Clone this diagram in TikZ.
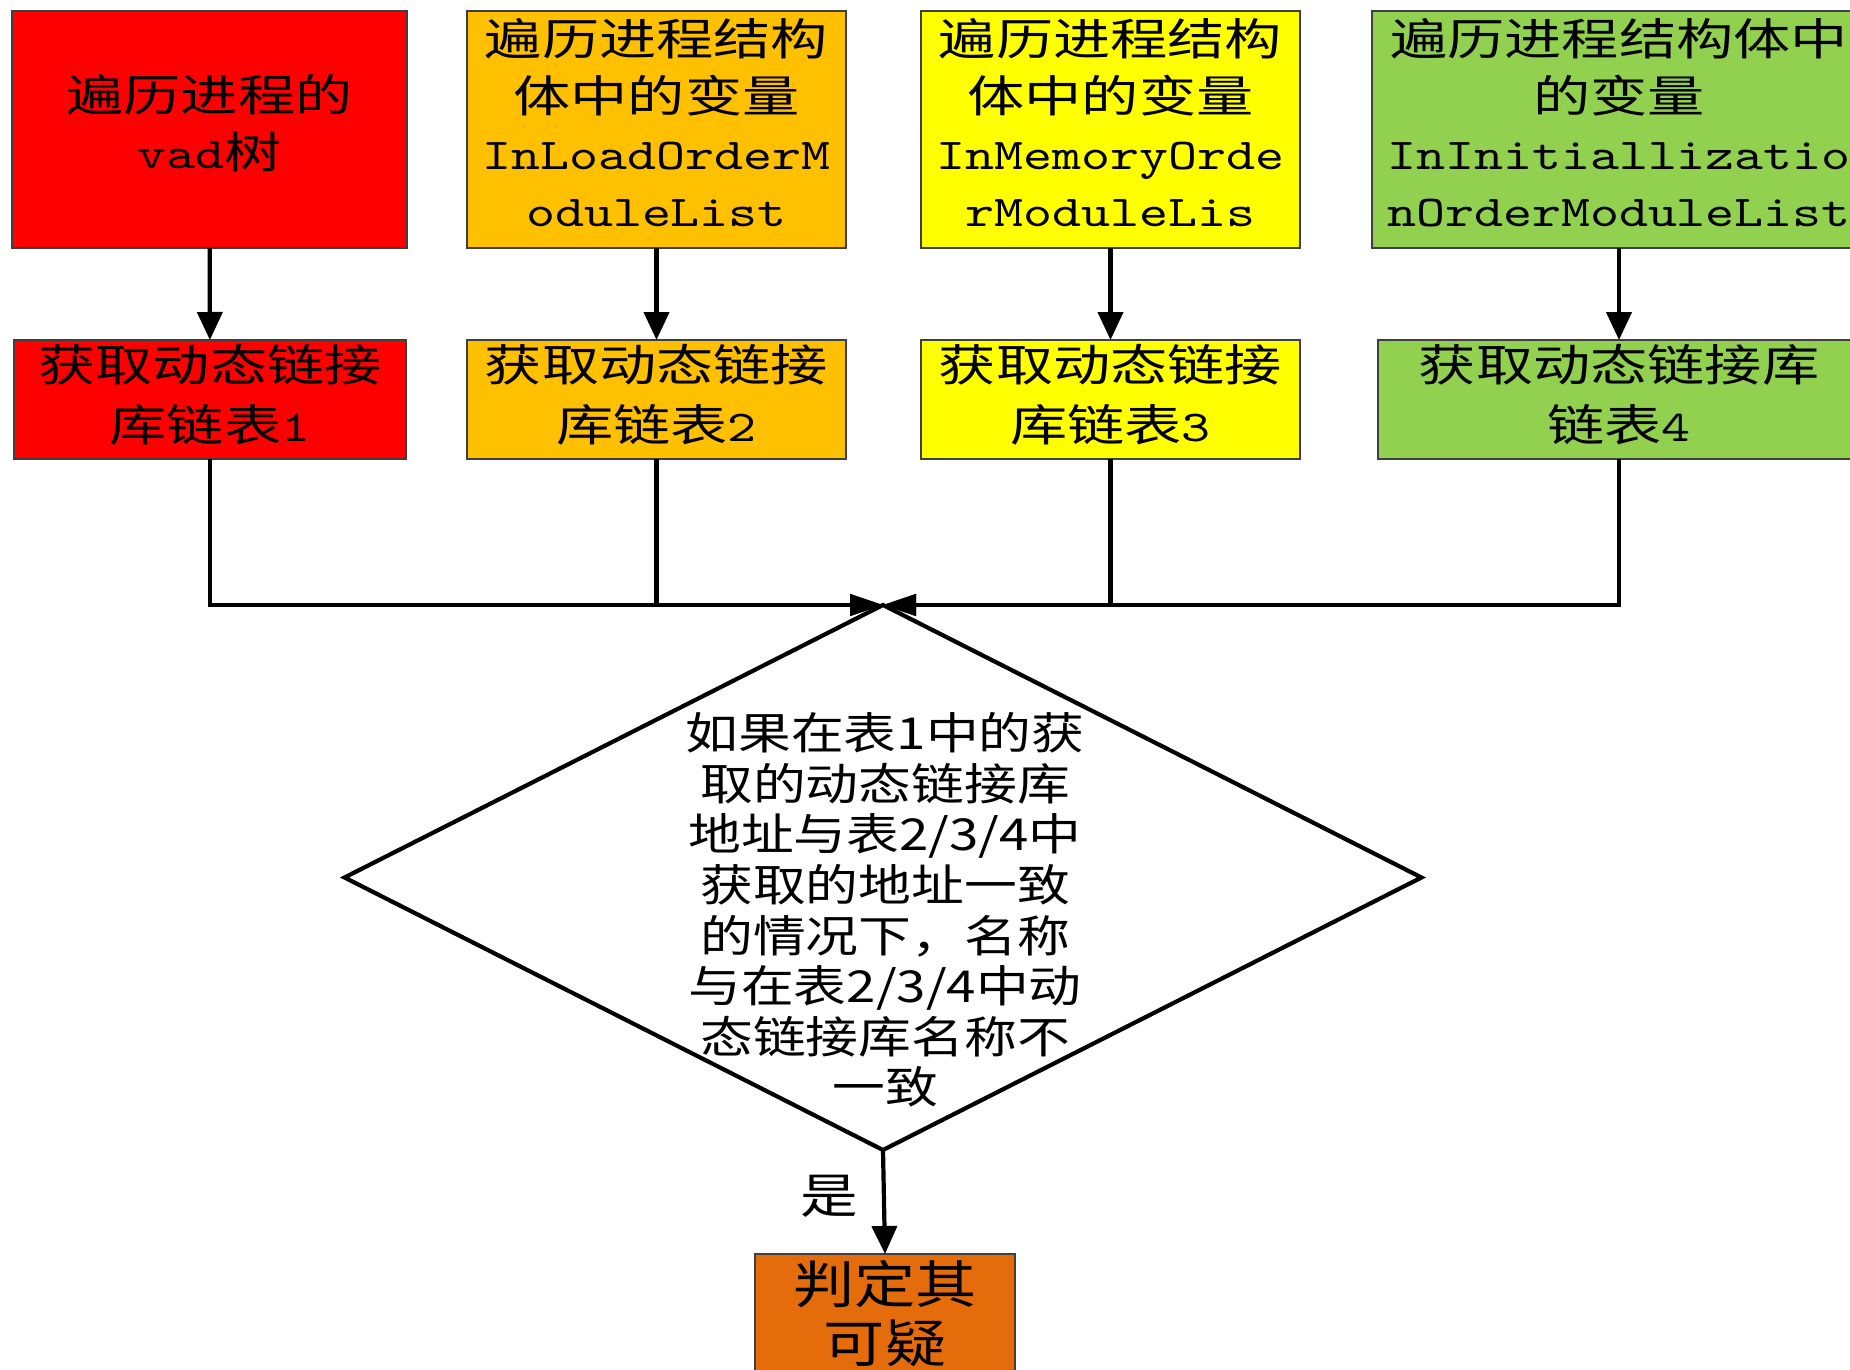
\documentclass[tikz,border=0pt]{standalone}
\usepackage{fontspec}
\usetikzlibrary{shapes.geometric,arrows.meta}
% wide set CJK text and half-width serif Latin text
\newfontfamily\boxcjk[FakeStretch=1.3]{Noto Sans CJK SC}
\newfontfamily\midcjk[FakeStretch=1.2]{Noto Sans CJK SC}
\newfontfamily\boxlat[FakeStretch=1.255]{lmmono10-regular.otf}
\definecolor{cred}{HTML}{FF0000}
\definecolor{corange}{HTML}{FFC000}
\definecolor{cyellow}{HTML}{FFFF00}
\definecolor{cgreen}{HTML}{92D050}
\definecolor{cdark}{HTML}{E46C0A}
\definecolor{boxline}{HTML}{3F3F3F}
\begin{document}
\begin{tikzpicture}[x=1pt,y=-1pt,
  procbox/.style={draw=boxline, line width=1.8pt, inner sep=0pt, outer sep=0pt},
  topbox/.style={procbox, minimum height=237},
  listbox/.style={procbox, minimum height=119},
  toptext/.style={align=center, inner sep=0pt, font={\boxcjk\fontsize{44}{57}\selectfont}},
  listtext/.style={align=center, inner sep=0pt, font={\boxcjk\fontsize{44}{60}\selectfont}},
  arr/.style={line width=4.2pt, -{Triangle[length=28pt,width=25pt]}},
  harr/.style={line width=4.2pt, -{Triangle[length=33pt,width=21pt]}}]
\useasboundingbox (0,0) rectangle (1850,1370);
\fill[white] (0,0) rectangle (1850,1370);

% sources walked in the process
\node[topbox, fill=cred, minimum width=395] (t1) at (209.5,129.5) {};
\node[topbox, fill=corange, minimum width=379] (t2) at (656.5,129.5) {};
\node[topbox, fill=cyellow, minimum width=379] (t3) at (1110.5,129.5) {};
\node[topbox, fill=cgreen, minimum width=494] (t4) at (1619,129.5) {};
\node[toptext] (t1txt) at (209.5,123) {遍历进程的\\{\boxlat vad}树};
\node[toptext] (t2txt) at (656.5,123)
  {遍历进程结构\\体中的变量\\{\boxlat InLoadOrderM}\\{\boxlat oduleList}};
\node[toptext] (t3txt) at (1110.5,123)
  {遍历进程结构\\体中的变量\\{\boxlat InMemoryOrde}\\{\boxlat rModuleLis}};
\node[toptext] (t4txt) at (1619,123)
  {遍历进程结构体中\\的变量\\{\boxlat InInitiallizatio}\\{\boxlat nOrderModuleList}};

% resulting module lists
\node[listbox, fill=cred, minimum width=392] (b1) at (210,399.5) {};
\node[listbox, fill=corange, minimum width=379] (b2) at (656.5,399.5) {};
\node[listbox, fill=cyellow, minimum width=379] (b3) at (1110.5,399.5) {};
\node[listbox, fill=cgreen, minimum width=482] (b4) at (1619,399.5) {};
\node[listtext] (b1txt) at (210,395) {获取动态链接\\库链表{\boxlat 1}};
\node[listtext] (b2txt) at (656.5,395) {获取动态链接\\库链表{\boxlat 2}};
\node[listtext] (b3txt) at (1110.5,395) {获取动态链接\\库链表{\boxlat 3}};
\node[listtext] (b4txt) at (1619,395) {获取动态链接库\\链表{\boxlat 4}};

% comparison
\node[diamond, draw, line width=4.2pt, minimum width=1077, minimum height=545,
  inner sep=0pt, outer sep=0pt] (dec) at (883,877.5) {};
\node[align=center, font={\midcjk\fontsize{44}{50.6}\selectfont}] (dectext) at (885,910)
  {如果在表1中的获\\取的动态链接库\\地址与表2/3/4中\\获取的地址一致\\的情况下，名称\\与在表2/3/4中动\\态链接库名称不\\一致};

% verdict
\node[procbox, fill=cdark, minimum width=260, minimum height=120, anchor=north,
  align=center, font={\midcjk\fontsize{51}{59}\selectfont}] (sus) at (885,1254) {判定其\\可疑};
\node[font={\midcjk\fontsize{48}{50}\selectfont}] (yes) at (829,1196) {是};

% connectors
\draw[arr] (t1) -- (b1);
\draw[arr] (t2) -- (b2);
\draw[arr] (t3) -- (b3);
\draw[arr] (t4) -- (b4);
\draw[harr] (b1.south) |- (dec.north);
\draw[harr] (b2.south) |- (dec.north);
\draw[harr] (b3.south) |- (dec.north);
\draw[harr] (b4.south) |- (dec.north);
\draw[arr] (dec.south) -- (sus.north);
\end{tikzpicture}
\end{document}
